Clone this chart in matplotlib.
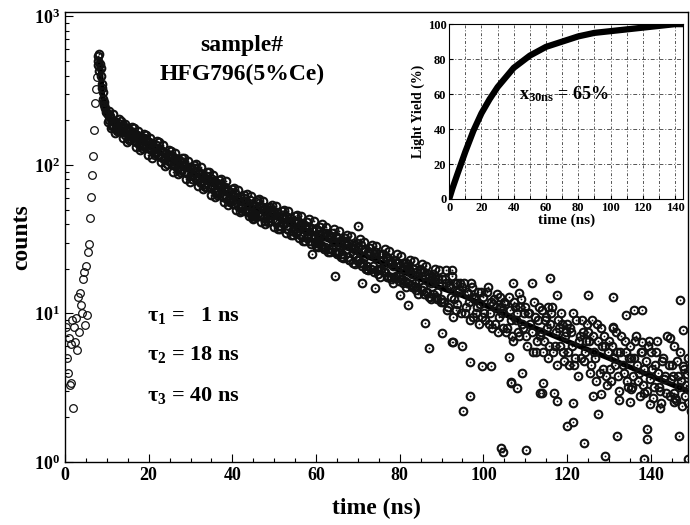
import matplotlib
matplotlib.use("Agg")
import matplotlib.pyplot as plt
from matplotlib.ticker import MultipleLocator, LogLocator, NullFormatter

plt.rcParams['font.family'] = ['Liberation Serif', 'DejaVu Serif']
plt.rcParams['font.weight'] = 'bold'
plt.rcParams['mathtext.fontset'] = 'custom'
plt.rcParams['mathtext.rm'] = 'Liberation Serif:bold'
plt.rcParams['mathtext.it'] = 'Liberation Serif:italic:bold'
plt.rcParams['mathtext.bf'] = 'Liberation Serif:bold'
plt.rcParams['mathtext.default'] = 'rm'

# ---------------- data: rising edge (open circles) ----------------
rise_t = [0.3, 0.5, 0.7, 1.0, 1.2, 1.4, 1.5, 1.7, 1.9, 2.2, 2.4, 2.6, 2.9, 3.1, 3.3,
          3.6, 3.8, 4.1, 4.3, 4.6, 4.8, 5.0, 5.3, 5.5, 5.7, 6.0, 6.2, 6.5, 6.7, 6.9,
          7.2, 7.4, 7.6]
rise_c = [8.1, 5.0, 4.0, 6.8, 3.3, 3.4, 6.2, 9.1, 2.3, 8.1, 6.4, 9.3, 5.7, 13.0, 7.5,
          13.8, 11.4, 10.0, 17, 19, 8.4, 21, 9.8, 26, 29.5, 44, 61, 86, 115, 172,
          262, 325, 390]

# ---------------- data: decay (circled dots) ----------------
peak_t = [7.8, 8.0, 8.0, 8.2, 8.2, 8.4, 8.6, 8.8, 9.0, 9.2, 9.4, 9.6, 9.8, 8.5, 8.9, 9.3]
peak_c = [470, 540, 500, 560, 430, 480, 400, 350, 310, 280, 255, 240, 228, 450, 330, 265]

decay_t_a = [10.0, 10.5, 11.0, 11.5, 12.0, 12.5, 13.0, 13.5, 14.0, 14.5,
             15.0, 15.5, 16.0, 16.5, 17.0, 17.5, 18.0, 18.5, 19.0, 19.5,
             20.0, 20.5, 21.0, 21.5, 22.0, 22.5, 23.0, 23.5, 24.0, 24.5,
             25.0, 25.5, 26.0, 26.5, 27.0, 27.5, 28.0, 28.5, 29.0, 29.5,
             30.0, 30.5, 31.0, 31.5, 32.0, 32.5, 33.0, 33.5, 34.0, 34.5,
             35.0, 35.5, 36.0, 36.5, 37.0, 37.5, 38.0, 38.5, 39.0, 39.5,
             40.0, 40.5, 41.0, 41.5, 42.0, 42.5, 43.0, 43.5, 44.0, 44.5,
             45.0, 45.5, 46.0, 46.5, 47.0, 47.5, 48.0, 48.5, 49.0, 49.5]
decay_c_a = [224, 200, 203, 186, 194, 181, 172, 183, 166, 171,
             158, 170, 155, 162, 142, 156, 147, 136, 152, 134,
             143, 127, 135, 121, 130, 126, 113, 122, 110, 117,
             104, 115, 101, 109, 96, 106, 100, 90, 99, 87,
             97, 85, 90, 79, 88, 77, 84, 81, 71, 79,
             70, 78, 66, 73, 71, 62, 69, 60, 67, 58,
             63, 55, 61, 58, 52, 57, 49, 55, 53, 47,
             54, 47, 51, 45, 52, 44, 49, 50, 42, 47]

decay_t_b = [50.0, 50.5, 51.0, 51.5, 52.0, 52.5, 53.0, 53.5, 54.0, 54.5,
             55.0, 55.5, 56.0, 56.5, 57.0, 57.5, 58.0, 58.5, 59.0, 59.5,
             60.0, 60.5, 61.0, 61.5, 62.0, 62.5, 63.0, 63.5, 64.0, 64.5,
             65.0, 65.5, 66.0, 66.5, 67.0, 67.5, 68.0, 68.5, 69.0, 69.5,
             70.0, 70.5, 71.0, 71.5, 72.0, 72.5, 73.0, 73.5, 74.0, 74.5,
             75.0, 75.5, 76.0, 76.5, 77.0, 77.5, 78.0, 78.5, 79.0, 79.5,
             80.0, 80.5, 81.0, 81.5, 82.0, 82.5, 83.0, 83.5, 84.0, 84.5,
             85.0, 85.5, 86.0, 86.5, 87.0, 87.5, 88.0, 88.5, 89.0, 89.5]
decay_c_b = [48, 42, 45, 39, 44, 43, 37, 42, 41, 36,
             41, 36, 39, 40, 33, 37, 34, 31, 37, 32,
             37, 31, 34, 28, 33, 35, 27, 32, 29, 26,
             32, 26, 30, 24, 31, 27, 23, 29, 27, 24,
             28, 22, 27, 24, 20, 26, 25, 21, 24, 19.5,
             25, 20, 23, 19, 24, 22, 17.5, 21, 18, 22,
             21, 17, 20, 22, 16, 19, 18.5, 15, 19, 16.5,
             19, 15, 18, 14, 17.5, 16, 13.5, 17, 14, 16]

decay_t_c = [90.0, 90.5, 91.0, 91.5, 92.0, 92.5, 93.0, 93.5, 94.0, 94.5,
             95.0, 95.5, 96.0, 96.5, 97.0, 97.5, 98.0, 98.5, 99.0, 99.5,
             100.0, 100.5, 101.0, 101.5, 102.0, 102.5, 103.0, 103.5, 104.0, 104.5,
             105.0, 105.5, 106.0, 106.5, 107.0, 107.5, 108.0, 108.5, 109.0, 109.5,
             110.0, 110.5, 111.0, 111.5, 112.0, 112.5, 113.0, 113.5, 114.0, 114.5,
             115.0, 115.5, 116.0, 116.5, 117.0, 117.5, 118.0, 118.5, 119.0, 119.5]
decay_c_c = [17, 12, 16, 11, 15, 18, 12.5, 10.5, 14, 16,
             15, 10, 14, 12, 16, 9.5, 13, 11, 8.5, 14,
             13, 9, 15, 10, 8, 12.5, 11, 7.5, 13, 10,
             12, 7.5, 13, 9, 6.5, 11, 10, 7, 12.5, 8,
             11, 6, 10, 7.5, 12, 5.5, 9, 7, 10.5, 6.5,
             9.5, 5, 8.5, 11, 6, 4.5, 8, 10, 5.5, 7]

decay_t_d = [120.0, 120.5, 121.0, 121.5, 122.0, 122.5, 123.0, 123.5, 124.0, 124.5,
             125.0, 125.5, 126.0, 126.5, 127.0, 127.5, 128.0, 128.5, 129.0, 129.5,
             130.0, 130.5, 131.0, 131.5, 132.0, 132.5, 133.0, 133.5, 134.0, 134.5,
             135.0, 135.5, 136.0, 136.5, 137.0, 137.5, 138.0, 138.5, 139.0, 139.5,
             140.0, 140.5, 141.0, 141.5, 142.0, 142.5, 143.0, 143.5, 144.0, 144.5,
             145.0, 145.5, 146.0, 146.5, 147.0, 147.5, 148.0, 148.5, 149.0, 149.5]
decay_c_d = [8.5, 4.5, 7.5, 10, 5, 3.8, 7, 9, 4.8, 6.5,
             7.5, 4.0, 9, 5.5, 3.5, 6.5, 8, 4.2, 6, 3.3,
             6.5, 3.5, 8, 4.5, 5.5, 3.0, 7, 4.0, 5.5, 3.2,
             6, 3.2, 5, 7, 3.5, 2.8, 5.5, 4.2, 3.0, 6.5,
             5.5, 2.7, 4.5, 6.5, 3.2, 2.5, 5, 3.8, 7, 2.8,
             4.5, 6, 2.6, 3.8, 5.5, 2.4, 4.2, 3.3, 5, 2.2]

# interleaved channels (between the ones above)
decay_t_e = [10.25, 10.75, 11.25, 11.75, 12.25, 12.75, 13.25, 13.75, 14.25, 14.75,
             15.25, 15.75, 16.25, 16.75, 17.25, 17.75, 18.25, 18.75, 19.25, 19.75,
             20.25, 20.75, 21.25, 21.75, 22.25, 22.75, 23.25, 23.75, 24.25, 24.75,
             25.25, 25.75, 26.25, 26.75, 27.25, 27.75, 28.25, 28.75, 29.25, 29.75,
             30.25, 30.75, 31.25, 31.75, 32.25, 32.75, 33.25, 33.75, 34.25, 34.75,
             35.25, 35.75, 36.25, 36.75, 37.25, 37.75, 38.25, 38.75, 39.25, 39.75,
             40.25, 40.75, 41.25, 41.75, 42.25, 42.75, 43.25, 43.75, 44.25, 44.75,
             45.25, 45.75, 46.25, 46.75, 47.25, 47.75, 48.25, 48.75, 49.25, 49.75]
decay_c_e = [196, 214, 184, 199, 178, 192, 170, 185, 160, 176,
             172, 150, 165, 146, 160, 139, 154, 134, 149, 143,
             128, 140, 122, 136, 117, 129, 125, 110, 121, 106,
             117, 100, 112, 96, 108, 93, 104, 99, 88, 97,
             84, 95, 80, 91, 77, 87, 74, 84, 81, 70,
             80, 67, 76, 64, 74, 61, 71, 68, 58, 66,
             55, 65, 53, 62, 51, 60, 57, 48, 58, 45,
             47, 56, 45, 53, 50, 42, 52, 44, 49, 48]

decay_t_f = [50.25, 50.75, 51.25, 51.75, 52.25, 52.75, 53.25, 53.75, 54.25, 54.75,
             55.25, 55.75, 56.25, 56.75, 57.25, 57.75, 58.25, 58.75, 59.25, 59.75,
             60.25, 60.75, 61.25, 61.75, 62.25, 62.75, 63.25, 63.75, 64.25, 64.75,
             65.25, 65.75, 66.25, 66.75, 67.25, 67.75, 68.25, 68.75, 69.25, 69.75,
             70.25, 70.75, 71.25, 71.75, 72.25, 72.75, 73.25, 73.75, 74.25, 74.75,
             75.25, 75.75, 76.25, 76.75, 77.25, 77.75, 78.25, 78.75, 79.25, 79.75,
             80.25, 80.75, 81.25, 81.75, 82.25, 82.75, 83.25, 83.75, 84.25, 84.75,
             85.25, 85.75, 86.25, 86.75, 87.25, 87.75, 88.25, 88.75, 89.25, 89.75]
decay_c_f = [41, 48, 39, 46, 40, 45, 37, 44, 36, 42,
             35, 42, 34, 40, 39, 32, 38, 33, 36, 30,
             30, 36, 29, 35, 28, 34, 33, 27, 31, 33,
             26, 31, 25, 30, 29, 24, 28, 25, 29, 23,
             23, 29, 22, 27, 21, 26, 20, 25, 26, 20,
             19.5, 25, 19, 24, 18, 23, 22, 17.5, 22, 18,
             17, 22, 16.5, 21, 20, 15.5, 20, 16, 15, 19.5,
             14.5, 19, 14, 18.5, 13, 17.5, 16.5, 13, 17, 12.5]

decay_t_g = [90.25, 90.75, 91.25, 91.75, 92.25, 92.75, 93.25, 93.75, 94.25, 94.75,
             95.25, 95.75, 96.25, 96.75, 97.25, 97.75, 98.25, 98.75, 99.25, 99.75,
             100.25, 100.75, 101.25, 101.75, 102.25, 102.75, 103.25, 103.75, 104.25, 104.75,
             105.25, 105.75, 106.25, 106.75, 107.25, 107.75, 108.25, 108.75, 109.25, 109.75,
             110.25, 110.75, 111.25, 111.75, 112.25, 112.75, 113.25, 113.75, 114.25, 114.75,
             115.25, 115.75, 116.25, 116.75, 117.25, 117.75, 118.25, 118.75, 119.25, 119.75]
decay_c_g = [12, 17, 10.5, 15.5, 13, 9.5, 16, 11.5, 14.5, 10,
             16, 11, 13.5, 9, 15, 12.5, 10, 14, 11.5, 9.5,
             10, 14, 8.5, 12, 11.5, 8.5, 13.5, 9.5, 11, 8,
             11.5, 8, 10.5, 7, 12, 9, 7.5, 11, 8.5, 10,
             7, 10, 8.5, 5.5, 9.5, 6.5, 11, 7.5, 5.5, 9,
             8, 6, 10, 5.5, 7.5, 9, 6, 8.5, 4.8, 7.5]

decay_t_h = [120.25, 120.75, 121.25, 121.75, 122.25, 122.75, 123.25, 123.75, 124.25, 124.75,
             125.25, 125.75, 126.25, 126.75, 127.25, 127.75, 128.25, 128.75, 129.25, 129.75,
             130.25, 130.75, 131.25, 131.75, 132.25, 132.75, 133.25, 133.75, 134.25, 134.75,
             135.25, 135.75, 136.25, 136.75, 137.25, 137.75, 138.25, 138.75, 139.25, 139.75,
             140.25, 140.75, 141.25, 141.75, 142.25, 142.75, 143.25, 143.75, 144.25, 144.75,
             145.25, 145.75, 146.25, 146.75, 147.25, 147.75, 148.25, 148.75, 149.25, 149.75]
decay_c_h = [5.5, 8, 6, 4.5, 9, 6.5, 5, 7.5, 5.5, 8.5,
             6.5, 4.5, 7, 5, 8.5, 4, 6, 7, 3.8, 5.5,
             4.2, 6, 5, 7.5, 3.8, 5.5, 4.5, 6.5, 3.5, 5,
             5, 3.8, 6.5, 4.5, 4, 5.5, 3.3, 4.8, 6, 3.6,
             4.2, 3.2, 5.5, 4, 3, 4.8, 3.6, 2.9, 4.5, 3.6,
             3.8, 2.7, 4.8, 3.2, 3.5, 4.4, 2.8, 3.9, 3.1, 3.6]

# band edges (upper/lower spread of the dense region)
edge_t_u = [10.4, 11.4, 12.4, 13.4, 14.4, 15.4, 16.4, 17.4, 18.4, 19.4,
            20.4, 21.4, 22.4, 23.4, 24.4, 25.4, 26.4, 27.4, 28.4, 29.4,
            30.4, 31.4, 32.4, 33.4, 34.4, 35.4, 36.4, 37.4, 38.4, 39.4,
            40.4, 41.4, 42.4, 43.4, 44.4, 45.4, 46.4, 47.4, 48.4, 49.4,
            50.4, 51.4, 52.4, 53.4, 54.4, 55.4, 56.4, 57.4, 58.4, 59.4,
            60.4, 61.4, 62.4, 63.4, 64.4, 65.4, 66.4, 67.4, 68.4, 69.4,
            70.4, 71.4, 72.4, 73.4, 74.4, 75.4, 76.4, 77.4, 78.4, 79.4,
            80.4, 81.4, 82.4, 83.4, 84.4, 85.4, 86.4, 87.4, 88.4, 89.4]
edge_c_u = [232, 222, 170, 198, 190, 148, 176, 170, 131, 158,
            152, 117, 142, 136, 102, 125, 120, 90, 112, 107,
            80, 101, 97, 71, 90, 86, 63, 80, 78, 56,
            70, 68, 49, 64, 62, 45, 59, 57, 41, 54,
            53, 37, 50, 49, 34, 46, 45, 31, 43, 42,
            28, 40, 38.5, 26, 37, 36, 23.5, 34, 33, 21.5,
            31.5, 30.5, 19.5, 29, 28.5, 17.5, 27, 26.5, 16, 25,
            24.5, 15, 23, 22.5, 13.5, 21.5, 21, 12.5, 20, 19.5]

edge_t_l = [10.9, 11.9, 12.9, 13.9, 14.9, 15.9, 16.9, 17.9, 18.9, 19.9,
            20.9, 21.9, 22.9, 23.9, 24.9, 25.9, 26.9, 27.9, 28.9, 29.9,
            30.9, 31.9, 32.9, 33.9, 34.9, 35.9, 36.9, 37.9, 38.9, 39.9,
            40.9, 41.9, 42.9, 43.9, 44.9, 45.9, 46.9, 47.9, 48.9, 49.9,
            50.9, 51.9, 52.9, 53.9, 54.9, 55.9, 56.9, 57.9, 58.9, 59.9,
            60.9, 61.9, 62.9, 63.9, 64.9, 65.9, 66.9, 67.9, 68.9, 69.9,
            70.9, 71.9, 72.9, 73.9, 74.9, 75.9, 76.9, 77.9, 78.9, 79.9,
            80.9, 81.9, 82.9, 83.9, 84.9, 85.9, 86.9, 87.9, 88.9, 89.9]
edge_c_l = [178, 165, 205, 151, 142, 181, 132, 126, 162, 117,
            112, 145, 104, 99, 127, 90, 87, 112, 80, 77,
            100, 72, 69, 89, 63, 61, 79, 56, 54, 69,
            50, 48, 63, 45, 44, 58, 41, 40, 52, 38,
            37, 49, 35, 34, 45, 32, 31, 41, 29.5, 28.5,
            38, 27, 26, 35, 25, 24, 32, 23, 22, 30,
            21, 20, 27.5, 19, 18.5, 25, 17.5, 17, 23, 16.5,
            16, 21.5, 15, 14.5, 20, 13.5, 13, 18.5, 12.5, 12]

scatter_t = [45, 59, 70, 87, 92.6, 90, 86, 64.6, 71, 74, 80, 82, 96.7, 95.2, 104.3,
             104.6, 110.3, 120, 121.5, 124, 129, 132, 138.3, 139, 139.2, 146.7, 149,
             106.7, 108, 114, 114.2, 116.8, 117.7, 121.3, 126.3, 127.3, 128, 132.5,
             135, 135.2, 138.5, 139.7, 142.3, 145.5, 148.8, 145.6, 116, 124.9, 130.9,
             147, 147.6, 96.9, 92.8, 95, 99.7, 101.7, 106, 106.5, 109.3, 113.6, 138,
             144.7, 137.8, 136, 134, 131, 117.7, 115.5, 111.7, 107, 108.4, 93.7,
             92.6, 91]
scatter_c = [43, 25, 39, 5.9, 6.4, 7.4, 8.6, 18, 16, 14.8, 13.3, 11.4, 2.8, 2.2, 1.24,
             1.17, 1.2, 1.75, 1.86, 1.34, 1.1, 1.5, 1.05, 1.67, 1.43, 1.5, 1.05,
             3.4, 3.15, 2.9, 3.4, 2.9, 2.57, 2.5, 2.8, 2.1, 2.86, 2.6,
             2.55, 3.1, 2.9, 2.45, 2.3, 2.55, 2.5, 2.9, 17.3, 13.3, 12.9,
             12.3, 7.7, 4.7, 6.4, 6.0, 4.4, 4.4, 5.1, 3.45, 4.0, 2.9, 10.5,
             6.8, 6.4, 10.5, 9.8, 8.1, 13.3, 11, 16, 16, 13.8, 16,
             19.6, 19.6]

# fitted curve (main panel)
fit_t = [8.2, 9, 10, 12, 15, 20, 25, 30, 35, 40, 45, 50, 55, 60, 65, 70, 75, 80, 85,
         90, 95, 100, 110, 120, 130, 140, 149.5]
fit_c = [520, 290, 212, 188, 164, 136, 110, 91, 75, 61, 52, 45, 39, 34, 29.5, 25.7,
         22.4, 19.5, 17, 14.8, 13.2, 11.5, 8.5, 6.5, 5.0, 3.8, 2.95]

# inset: light yield
ly_t = [0, 2, 5, 10, 15, 20, 25, 30, 40, 50, 60, 70, 80, 90, 100, 110, 120, 130, 140, 145]
ly_v = [0, 6, 14, 27, 39, 49, 57, 64, 75, 82, 87, 90, 93, 95, 96, 97, 98, 99, 100, 100]

# ---------------- figure ----------------
fig = plt.figure(figsize=(6.9, 5.25), dpi=100)
ax = fig.add_axes([0.0942, 0.12, 0.9035, 0.857])

ink = '#111111'
dec_t = (peak_t + decay_t_a + decay_t_b + decay_t_c + decay_t_d + decay_t_e
         + decay_t_f + decay_t_g + decay_t_h + edge_t_u + edge_t_l + scatter_t)
dec_c = (peak_c + decay_c_a + decay_c_b + decay_c_c + decay_c_d + decay_c_e
         + decay_c_f + decay_c_g + decay_c_h + edge_c_u + edge_c_l + scatter_c)

ax.plot(fit_t, fit_c, color='black', linewidth=3.8, solid_capstyle='butt', zorder=2)
ax.plot(rise_t, rise_c, linestyle='none', marker='o', markersize=5.5,
        markerfacecolor='none', markeredgecolor=ink, markeredgewidth=0.9, zorder=3)
ax.plot(dec_t, dec_c, linestyle='none', marker='o', markersize=5.5,
        markerfacecolor='none', markeredgecolor=ink, markeredgewidth=1.5, zorder=3)
ax.plot(dec_t, dec_c, linestyle='none', marker='o', markersize=1.3,
        markerfacecolor=ink, markeredgecolor=ink, markeredgewidth=0, zorder=3)

ax.set_yscale('log')
ax.set_xlim(0, 149)
ax.set_ylim(1, 1070)
ax.xaxis.set_major_locator(MultipleLocator(20))
ax.xaxis.set_minor_locator(MultipleLocator(5))
ax.yaxis.set_major_locator(LogLocator(base=10, numticks=10))
ax.yaxis.set_minor_locator(LogLocator(base=10, subs=range(2, 10), numticks=20))
ax.yaxis.set_minor_formatter(NullFormatter())
ax.tick_params(which='both', direction='in', labelsize=13, width=0.8)
ax.tick_params(which='major', length=6)
ax.tick_params(which='minor', length=3)
for s in ax.spines.values():
    s.set_linewidth(1.0)
ax.set_xlabel('time (ns)', fontsize=17, fontweight='bold', labelpad=10)
ax.set_ylabel('counts', fontsize=17, fontweight='bold', labelpad=1)

ax.text(0.284, 0.925, 'sample#', transform=ax.transAxes, ha='center', va='center',
        fontsize=17, fontweight='bold')
ax.text(0.284, 0.862, 'HFG796(5%Ce)', transform=ax.transAxes, ha='center', va='center',
        fontsize=17, fontweight='bold')
ax.text(0.131, 0.325, r'τ$_1$ =   1 ns', transform=ax.transAxes, ha='left', va='center',
        fontsize=16)
ax.text(0.131, 0.24, r'τ$_2$ = 18 ns', transform=ax.transAxes, ha='left', va='center',
        fontsize=16)
ax.text(0.131, 0.148, r'τ$_3$ = 40 ns', transform=ax.transAxes, ha='left', va='center',
        fontsize=16)

# ---------------- inset ----------------
ins = fig.add_axes([0.651, 0.621, 0.339, 0.333])
ins.plot(ly_t, ly_v, color='black', linewidth=4.5)
ins.set_xlim(0, 145)
ins.set_ylim(0, 100)
ins.xaxis.set_major_locator(MultipleLocator(20))
ins.xaxis.set_minor_locator(MultipleLocator(10))
ins.yaxis.set_major_locator(MultipleLocator(20))
ins.grid(True, which='both', axis='x', linestyle=(0, (3, 2, 1, 2)), color='#555555', linewidth=0.7)
ins.grid(True, which='major', axis='y', linestyle=(0, (4, 2, 1, 2)), color='#555555', linewidth=0.7)
ins.tick_params(which='both', direction='in', labelsize=9, length=3, pad=2)
ins.set_xlabel('time (ns)', fontsize=11, fontweight='bold', labelpad=0)
ins.set_ylabel('Light Yield (%)', fontsize=10, fontweight='bold', labelpad=2)
ins.text(43, 60, r'x$_{30ns}$ = 65%', ha='left', va='center', fontsize=13)

fig.savefig('out.png', dpi=100)
